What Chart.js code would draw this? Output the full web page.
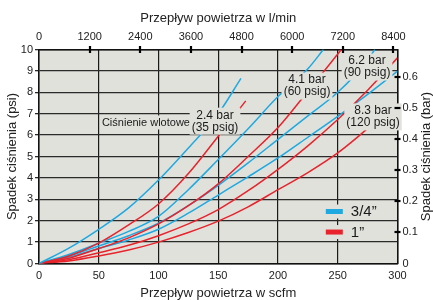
<!DOCTYPE html>
<html>
<head>
<meta charset="utf-8">
<script src="https://cdn.jsdelivr.net/npm/chart.js@4.4.0/dist/chart.umd.min.js"></script>
<style>
  html, body { margin: 0; padding: 0; background: #fff; }
  #wrap { width: 433px; height: 300px; }
</style>
</head>
<body>
<div id="wrap"><canvas id="dropChart" width="433" height="300"></canvas></div>
<script>
// tick labels
const scfmTicks = [0, 50, 100, 150, 200, 250, 300];
const psiTicks = [0, 1, 2, 3, 4, 5, 6, 7, 8, 9, 10];
const lpmTicks = [0, 1200, 2400, 3600, 4800, 6000, 7200, 8400];
const barTicks = [0, 0.1, 0.2, 0.3, 0.4, 0.5, 0.6];

// unit conversions for the secondary axes
const LPM_PER_SCFM = 28.317;
const BAR_PER_PSI = 0.0689476;

// flow (scfm) / pressure drop (psi)
const flow = [0, 25, 50, 75, 100, 125, 150, 175, 200, 225, 250, 275, 300];

const blue35Flow = [0, 25, 50, 75, 100, 125, 150, 169];
const blue35Drop = [0, 0.72, 1.6, 2.6, 3.9, 5.4, 7.0, 8.65];
const red35Flow = [0, 25, 50, 75, 100, 125, 150, 173];
const red35Drop = [0, 0.35, 0.95, 1.8, 2.78, 4.2, 5.95, 7.6];

const blue60Flow = [0, 25, 50, 75, 100, 125, 150, 175, 200, 225, 238];
const blue60Drop = [0, 0.42, 0.95, 1.5, 2.2, 3.45, 4.86, 6.3, 7.8, 9.1, 10];
const red60Flow = [0, 25, 50, 75, 100, 125, 150, 175, 200, 225, 253];
const red60Drop = [0, 0.25, 0.7, 1.2, 1.85, 2.7, 3.72, 5.0, 6.35, 8.05, 10];

const blue90Flow = [0, 25, 50, 75, 100, 125, 150, 175, 200, 225, 250, 275, 281];
const blue90Drop = [0, 0.35, 0.82, 1.3, 1.88, 2.7, 3.65, 4.7, 5.8, 6.9, 8.0, 9.5, 10];
const red90Drop = [0, 0.18, 0.5, 0.85, 1.3, 1.85, 2.52, 3.4, 4.4, 5.5, 6.73, 8.1, 9.61];

const blue120Drop = [0, 0.3, 0.7, 1.1, 1.6, 2.35, 3.2, 4.05, 4.93, 5.9, 6.88, 7.9, 8.99];
const red120Drop = [0, 0.12, 0.35, 0.63, 1.0, 1.45, 1.98, 2.65, 3.45, 4.25, 5.17, 6.3, 7.45];

const BLUE = '#1ea9e1';
const RED = '#e8232b';
const PLOT_BG = '#e1e1dc';
const FONT = '"Liberation Sans", Arial, sans-serif';

function pts(xs, ys) {
    return xs.map((x, i) => ({ x: x, y: ys[i] }));
}

function series(label, color, xs, ys) {
    return {
        label: label,
        data: pts(xs, ys),
        borderColor: color,
        borderWidth: 1.5,
        pointRadius: 0,
        showLine: true,
        fill: false,
        cubicInterpolationMode: 'monotone'
    };
}

// text labels placed at (scfm, psi)
const curveLabels = [
    { lines: ['Ciśnienie wlotowe'], at: [89.5, 6.59], size: 11 },
    { lines: ['2.4 bar', '(35 psig)'], at: [147.3, 6.65], size: 12 },
    { lines: ['4.1 bar', '(60 psig)'], at: [224.3, 8.29], size: 12 },
    { lines: ['6.2 bar', '(90 psig)'], at: [274.5, 9.18], size: 12 },
    { lines: ['8.3 bar', '(120 psig)'], at: [279.5, 6.85], size: 12 }
];

const legendItems = [
    { text: '3/4”', color: BLUE, at: [240, 2.43] },
    { text: '1”', color: RED, at: [240, 1.47] }
];

const plotBg = {
    id: 'plotBg',
    beforeDraw(chart) {
        const { ctx, chartArea: a } = chart;
        ctx.save();
        ctx.fillStyle = PLOT_BG;
        ctx.fillRect(a.left, a.top, a.right - a.left, a.bottom - a.top);
        ctx.restore();
    }
};

const annotations = {
    id: 'annotations',
    afterDatasetsDraw(chart) {
        const { ctx } = chart;
        const xs = chart.scales.x, ys = chart.scales.y;
        ctx.save();
        ctx.textAlign = 'center';
        ctx.textBaseline = 'middle';
        curveLabels.forEach(l => {
            ctx.font = l.size + 'px ' + FONT;
            const cx = xs.getPixelForValue(l.at[0]);
            const cy = ys.getPixelForValue(l.at[1]);
            const lh = l.size;
            const w = Math.max(...l.lines.map(t => ctx.measureText(t).width)) + 4;
            const h = lh * l.lines.length + 3;
            ctx.fillStyle = PLOT_BG;
            ctx.fillRect(cx - w / 2, cy - h / 2, w, h);
            ctx.fillStyle = '#1a1a1a';
            l.lines.forEach((t, i) => {
                ctx.fillText(t, cx, cy - (l.lines.length - 1) * lh / 2 + i * lh);
            });
        });

        // legend
        ctx.textAlign = 'left';
        ctx.font = '15px ' + FONT;
        legendItems.forEach(item => {
            const x0 = xs.getPixelForValue(item.at[0]);
            const y0 = ys.getPixelForValue(item.at[1]);
            const tw = ctx.measureText(item.text).width;
            ctx.fillStyle = PLOT_BG;
            ctx.fillRect(x0 - 2, y0 - 7, tw + 30, 14);
            ctx.fillStyle = item.color;
            ctx.fillRect(x0, y0 - 2.5, 17, 5);
            ctx.fillStyle = '#1a1a1a';
            ctx.fillText(item.text, x0 + 25, y0 + 0.5);
        });
        ctx.restore();
    },
    afterDraw(chart) {
        const { ctx, chartArea: a } = chart;
        const top = chart.scales.x2, right = chart.scales.y2;
        ctx.save();
        ctx.strokeStyle = '#000';
        ctx.lineWidth = 2.2;
        lpmTicks.slice(1).forEach(v => {
            const px = Math.round(top.getPixelForValue(v));
            ctx.beginPath();
            ctx.moveTo(px, a.top - 3.5);
            ctx.lineTo(px, a.top + 3.5);
            ctx.stroke();
        });
        barTicks.slice(1).forEach(v => {
            const py = Math.round(right.getPixelForValue(v));
            ctx.beginPath();
            ctx.moveTo(a.right - 3, py);
            ctx.lineTo(a.right + 3, py);
            ctx.stroke();
        });
        // right axis title, reading bottom to top
        ctx.fillStyle = '#1a1a1a';
        ctx.font = '13px ' + FONT;
        ctx.textAlign = 'center';
        ctx.textBaseline = 'middle';
        ctx.translate(426, (a.top + a.bottom) / 2);
        ctx.rotate(-Math.PI / 2);
        ctx.fillText('Spadek ciśnienia (bar)', 0, 0);
        ctx.restore();
    }
};

const tickFont = { family: FONT, size: 11 };
const titleFont = { family: FONT, size: 13, lineHeight: 1 };
const border = { color: '#111', width: 1.5 };
const plain = v => String(v);

new Chart(document.getElementById('dropChart').getContext('2d'), {
    type: 'scatter',
    data: {
        datasets: [
            series('3/4" 35 psig', BLUE, blue35Flow, blue35Drop),
            series('1" 35 psig', RED, red35Flow, red35Drop),
            series('3/4" 60 psig', BLUE, blue60Flow, blue60Drop),
            series('1" 60 psig', RED, red60Flow, red60Drop),
            series('3/4" 90 psig', BLUE, blue90Flow, blue90Drop),
            series('1" 90 psig', RED, flow, red90Drop),
            series('3/4" 120 psig', BLUE, flow, blue120Drop),
            series('1" 120 psig', RED, flow, red120Drop)
        ]
    },
    options: {
        responsive: false,
        animation: false,
        layout: { padding: 0 },
        plugins: {
            legend: { display: false },
            tooltip: { enabled: false }
        },
        scales: {
            x: {
                type: 'linear',
                position: 'bottom',
                min: 0,
                max: 300,
                afterBuildTicks: s => { s.ticks = scfmTicks.map(v => ({ value: v })); },
                afterFit: s => { s.height = 36.5; },
                grid: { color: '#1a1a1a', lineWidth: 1.2, drawTicks: false },
                border: border,
                ticks: { font: tickFont, color: '#222', padding: 6, callback: plain },
                title: { display: true, text: 'Przepływ powietrza w scfm', font: titleFont, color: '#222', padding: { top: 0, bottom: 0 } }
            },
            x2: {
                type: 'linear',
                position: 'top',
                min: 0,
                max: 300 * LPM_PER_SCFM,
                afterBuildTicks: s => { s.ticks = lpmTicks.map(v => ({ value: v })); },
                afterFit: s => { s.height = 49.5; },
                grid: { drawOnChartArea: false, drawTicks: false },
                border: border,
                ticks: { font: tickFont, color: '#222', padding: 6, callback: plain },
                title: { display: true, text: 'Przepływ powietrza w l/min', font: titleFont, color: '#222', padding: { top: 12, bottom: 0 } }
            },
            y: {
                type: 'linear',
                position: 'left',
                min: 0,
                max: 10,
                afterBuildTicks: s => { s.ticks = psiTicks.map(v => ({ value: v })); },
                afterFit: s => { s.width = 39; },
                grid: { color: '#2a2a2a', lineWidth: 1.3, tickLength: 4 },
                border: border,
                ticks: { font: tickFont, color: '#222', padding: 2, callback: plain },
                title: { display: true, text: 'Spadek ciśnienia (psi)', font: titleFont, color: '#222', padding: { top: 6, bottom: 0 } }
            },
            y2: {
                type: 'linear',
                position: 'right',
                min: 0,
                max: 10 * BAR_PER_PSI,
                afterBuildTicks: s => { s.ticks = barTicks.map(v => ({ value: v })); },
                afterFit: s => { s.width = 35.5; },
                grid: { drawOnChartArea: false, drawTicks: false },
                border: border,
                ticks: { font: tickFont, color: '#222', padding: 5, callback: plain }
            }
        }
    },
    plugins: [plotBg, annotations]
});
</script>
</body>
</html>
